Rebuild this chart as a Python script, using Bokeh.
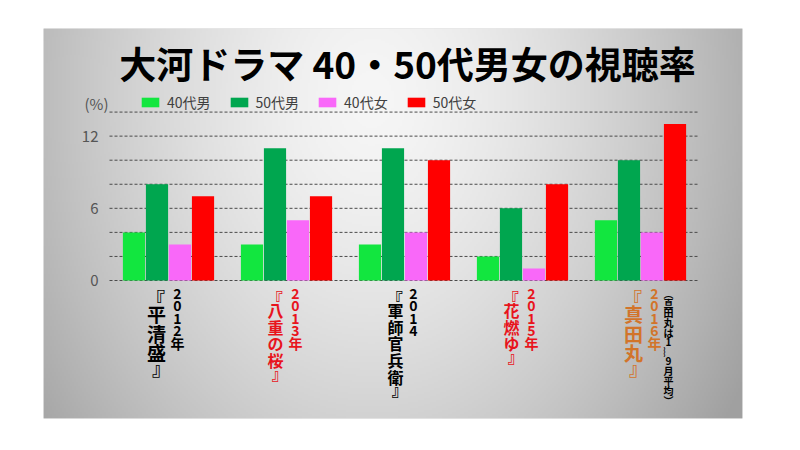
import numpy as np
from bokeh.plotting import figure
from bokeh.models import ColumnDataSource, Range1d, LinearAxis, FixedTicker, Label
from bokeh.transform import dodge
from bokeh.core.properties import value
from bokeh.embed import file_html
from bokeh.resources import INLINE

# ---------------- data ----------------
chart_title = "大河ドラマ 40・50代男女の視聴率"
unit_label = "(%)"
years = ["2012年", "2013年", "2014", "2015年", "2016年"]
dramas = ["『平清盛』", "『八重の桜』", "『軍師官兵衛』", "『花燃ゆ』", "『真田丸』"]
note_2016 = "（真田丸は1～9月平均）"
series_names = ["40代男", "50代男", "40代女", "50代女"]
male_40 = [4, 3, 3, 2, 5]
male_50 = [8, 11, 11, 6, 10]
female_40 = [3, 5, 4, 1, 4]
female_50 = [7, 7, 10, 8, 13]
y_tick_values = [0, 6, 12]
grid_values = [0, 2, 4, 6, 8, 10, 12, 14]

# ---------------- styles ----------------
FONT = "Noto Sans CJK JP"
bar_colors = ["#12e63f", "#00a64f", "#f968f9", "#ff0000"]
label_colors = ["#000000", "#e8141c", "#000000", "#e8141c", "#d2742a"]
title_sizes = [19, 16, 16, 16, 19]
title_dx = [-12, -11, -9, -11, -7]
year_dx = [9, 9, 9, 9, 14]
note_dx = 28

# layout (page pixels; page origin = figure origin)
W, H = 784, 434
frame_left, frame_right, frame_top, frame_bottom = 43, 742, 28, 418
zero_px = 280          # y pixel of value 0
px_per_unit = 12.03
first_center_px = 168  # x pixel of first group centre
group_px = 118

x_start = (frame_left - first_center_px) / group_px
x_end = (frame_right - first_center_px) / group_px
y_end = (zero_px - frame_top) / px_per_unit
y_start = (zero_px - frame_bottom) / px_per_unit

p = figure(width=W, height=H,
           x_range=Range1d(x_start, x_end), y_range=Range1d(y_start, y_end),
           x_axis_type=None, y_axis_type=None,
           output_backend="svg", toolbar_location=None,
           min_border_left=frame_left, min_border_right=W - frame_right,
           min_border_top=frame_top, min_border_bottom=H - frame_bottom,
           outline_line_color=None, border_fill_color="white",
           background_fill_color="#d0d0d0")

# gradient panel background
fw, fh = frame_right - frame_left, frame_bottom - frame_top
nx, ny = fw // 2, fh // 2
u = np.linspace(0, fw, nx)[None, :]
v = np.linspace(0, fh, ny)[:, None]
cx, cy, rx, ry = 0.47 * fw, 0.18 * fh, 390.0, 520.0
d = np.sqrt(((u - cx) / rx) ** 2 + ((v - cy) / ry) ** 2)
g = np.clip(246 - 74 * d ** 1.5, 160, 246).astype(np.uint8)
rgba = np.empty((ny, nx, 4), dtype=np.uint8)
rgba[..., 0] = g
rgba[..., 1] = g
rgba[..., 2] = g
rgba[..., 3] = 255
img = rgba[::-1].copy().view(dtype=np.uint32).reshape((ny, nx))
p.image_rgba(image=[img], x=x_start, y=y_start, dw=x_end - x_start, dh=y_end - y_start)

n = len(years)
# dashed grid lines
p.segment(x0=-0.5, x1=n - 0.5, y0=grid_values, y1=grid_values,
          line_color="#4a4a4a", line_dash="3 2", line_width=1)

src = ColumnDataSource(dict(x=list(range(n)), m40=male_40, m50=male_50,
                            f40=female_40, f50=female_50))
bar_w = 0.188
step = 0.195
for k, (col, name) in enumerate(zip(["m40", "m50", "f40", "f50"], series_names)):
    off = (k - 1.5) * step
    p.vbar(x=dodge("x", off, range=p.x_range), top=col, bottom=0, width=bar_w,
           source=src, fill_color=bar_colors[k], line_color=None,
           legend_label=name)

# y axis placed at the left edge of the grid
yaxis = LinearAxis(fixed_location=-0.5,
                   ticker=FixedTicker(ticks=y_tick_values, minor_ticks=[]),
                   axis_line_color=None, major_tick_line_color=None,
                   minor_tick_line_color=None,
                   major_label_text_font_size="15px",
                   major_label_text_color="#555555",
                   major_label_text_font=FONT,
                   major_label_standoff=5)
p.add_layout(yaxis, "left")

# vertical (tategaki) category labels, one glyph per character
VERT = {"（": "︵", "）": "︶", "～": "︴"}
HALF = "『』"
BRACKET_DX = {"『": -1, "』": 5}

cols = dict(x=[], ch=[], dx=[], dy=[], color=[], size=[])


def stack(i, text, top, pitch, size, dx, color, half=True):
    y = top
    for c in text:
        h = pitch * 0.5 if (half and c in HALF) else pitch
        cols["x"].append(i)
        cols["ch"].append(VERT.get(c, c))
        cols["dx"].append(dx + (BRACKET_DX.get(c, 0) * size / 19 if half else 0))
        cols["dy"].append(y + h / 2)
        cols["color"].append(color)
        cols["size"].append(f"{size}px")
        y += h


for i in range(n):
    s = title_sizes[i]
    stack(i, dramas[i], 13, s * 1.04, s, title_dx[i], label_colors[i])
    stack(i, years[i], 7, 12.3, 14, year_dx[i], label_colors[i])
stack(n - 1, note_2016, 8, 9.7, 10, note_dx, "#000000", half=False)

p.text(x="x", y=0, text="ch", source=ColumnDataSource(cols),
       x_offset="dx", y_offset="dy", text_color="color", text_font_size="size",
       text_font=value(FONT), text_font_style="bold",
       text_align="center", text_baseline="middle")

# title and unit
p.add_layout(Label(x=364, y=356, x_units="screen", y_units="screen",
                   text=chart_title, text_align="center", text_baseline="middle",
                   text_font_size="37px", text_font_style="bold",
                   text_font=FONT, text_color="black"))
p.add_layout(Label(x=53, y=315, x_units="screen", y_units="screen",
                   text=unit_label, text_align="center", text_baseline="middle",
                   text_font_size="15px", text_font=FONT, text_color="#555555"))

# legend
lg = p.legend[0]
lg.orientation = "horizontal"
lg.location = (96, 306)
lg.background_fill_alpha = 0
lg.border_line_color = None
lg.padding = 0
lg.margin = 0
lg.spacing = 17
lg.glyph_width = 22
lg.glyph_height = 12
lg.label_standoff = 6
lg.label_height = 12
lg.label_text_font_size = "14px"
lg.label_text_color = "#404040"
lg.label_text_font = FONT

open("out.html", "w").write(file_html(p, INLINE))
